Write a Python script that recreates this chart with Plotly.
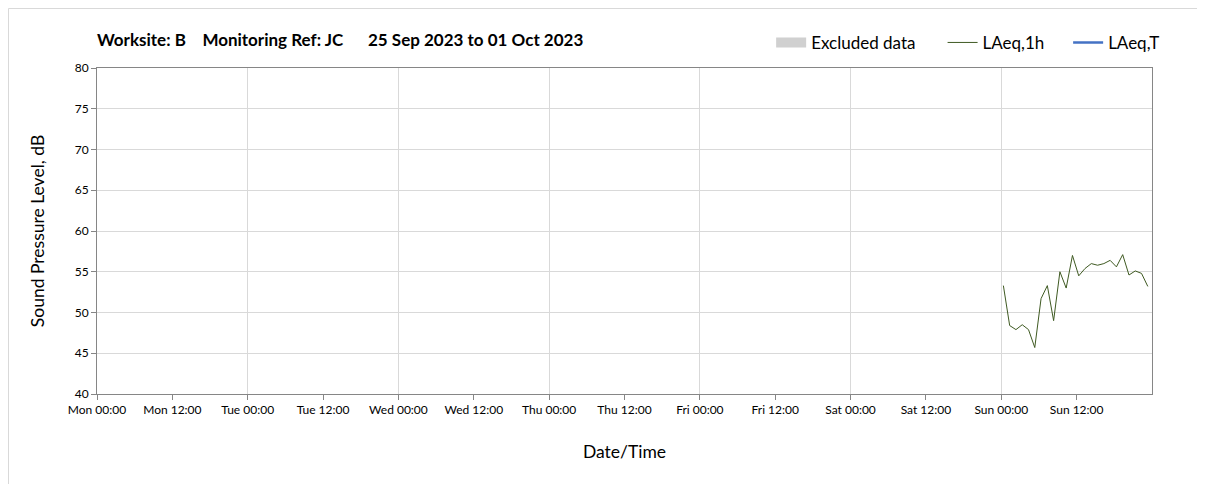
import plotly.graph_objects as go
import pandas as pd

# ---- data ----
times = [t.strftime("%Y-%m-%d %H:%M") for t in pd.date_range("2023-10-01 00:20", periods=24, freq="h")]
laeq_1h = [53.3, 48.4, 47.9, 48.5, 47.9, 45.7, 51.7, 53.3, 49.0, 55.0, 53.0, 57.0,
           54.5, 55.4, 56.0, 55.8, 56.0, 56.4, 55.6, 57.1, 54.6, 55.1, 54.8, 53.2]
tick_vals = [t.strftime("%Y-%m-%d %H:%M") for t in pd.date_range("2023-09-25 00:00", periods=14, freq="12h")]
tick_text = ["Mon 00:00", "Mon 12:00", "Tue 00:00", "Tue 12:00", "Wed 00:00", "Wed 12:00",
             "Thu 00:00", "Thu 12:00", "Fri 00:00", "Fri 12:00", "Sat 00:00", "Sat 12:00",
             "Sun 00:00", "Sun 12:00"]
title_text = ("Worksite: B\u00a0\u00a0\u00a0\u00a0Monitoring Ref: JC"
              "\u00a0\u00a0\u00a0\u00a0\u00a0\u00a025 Sep 2023 to 01 Oct 2023")

FONT = "Lato, Open Sans, sans-serif"

fig = go.Figure()
fig.add_trace(go.Scatter(x=[None], y=[None], mode="lines", name="Excluded data",
                         line=dict(color="#d0d0d0", width=10), legend="legend"))
fig.add_trace(go.Scatter(x=times, y=laeq_1h, mode="lines", name="LAeq,1h",
                         line=dict(color="#3f5a22", width=1), legend="legend2"))
fig.add_trace(go.Scatter(x=[None], y=[None], mode="lines", name="LAeq,T",
                         line=dict(color="#4472C4", width=2.5), legend="legend3"))


def leg(xp):
    return dict(orientation="h", x=xp, xanchor="left", y=1.077, yanchor="middle",
                font=dict(size=17, family=FONT), itemwidth=30, bgcolor="rgba(0,0,0,0)")


fig.update_layout(
    width=1197, height=476,
    margin=dict(l=89, r=53, t=60, b=90),
    paper_bgcolor="white", plot_bgcolor="white",
    font=dict(family=FONT, color="#000000"),
    showlegend=True,
    legend=leg(0.639), legend2=leg(0.8015), legend3=leg(0.9205),
    annotations=[dict(text="<b>" + title_text + "</b>", x=-0.002, xref="paper", xanchor="left",
                      y=1.086, yref="paper", yanchor="middle", showarrow=False,
                      font=dict(size=17, family=FONT, color="#000"))],
    shapes=[dict(type="rect", xref="paper", yref="paper", x0=-0.0839, x1=1.08, y0=-0.35, y1=1.1825,
                 line=dict(color="#d9d9d9", width=1), fillcolor="rgba(0,0,0,0)", layer="below")],
)

fig.update_xaxes(
    type="date",
    range=["2023-09-25 00:00", "2023-10-02 00:00"],
    tickvals=tick_vals, ticktext=tick_text,
    tickfont=dict(size=12, family=FONT),
    ticks="outside", ticklen=5, tickcolor="#868686",
    showgrid=False,
    minor=dict(dtick=24 * 3600 * 1000, tick0="2023-09-25", showgrid=True, gridcolor="#d9d9d9",
               gridwidth=1, ticks=""),
    showline=True, linecolor="#868686", linewidth=1, mirror=True,
    title=dict(text="Date/Time", font=dict(size=17.5, family=FONT), standoff=29),
    zeroline=False,
)
fig.update_yaxes(
    range=[40, 80], dtick=5, tick0=40,
    tickfont=dict(size=12, family=FONT),
    ticks="outside", ticklen=5, tickcolor="#868686",
    showgrid=True, gridcolor="#d9d9d9", gridwidth=1,
    showline=True, linecolor="#868686", linewidth=1, mirror=True,
    title=dict(text="Sound Pressure Level, dB", font=dict(size=17.5, family=FONT), standoff=25),
    zeroline=False,
)

fig.write_html("out.html")
